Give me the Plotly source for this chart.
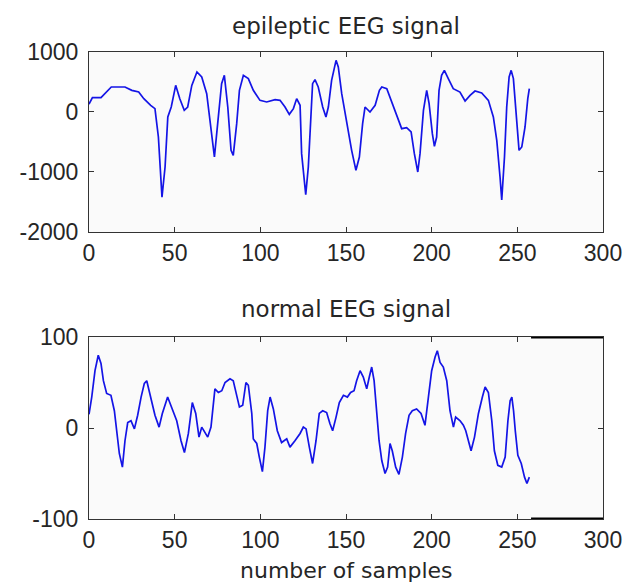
import plotly.graph_objects as go

# ---- data ----
epi_x = [0, 2, 7, 13, 21, 25, 29, 32, 36, 38.5, 40.5, 42.6, 44.4, 46, 48, 50.6, 53, 55.6, 57.6, 60, 63, 65.8,
         68.7, 71.2, 73.2, 75.1, 77.4, 79, 81, 82.9, 84.2, 86.2, 87.8, 90.1, 93, 95.9, 99.8, 103.7, 108.6,
         111.5, 114.4, 116.9, 119.3, 121.2, 123.2, 124.1, 126.5, 128, 129, 130.5, 131.9, 133.8, 136.4,
         138.3, 139.7, 141.6, 144.2, 145.5, 147.5, 150.4, 153.3, 155.8, 157.8, 159.7, 161.1, 164, 167,
         169.5, 170.9, 173.8, 176.7, 179.6, 182.5, 185.4, 188, 189.9, 191.9, 193.2, 195.2, 197.1, 198.5,
         200.4, 201.6, 202.9, 204.3, 205.8, 207.4, 209.7, 212.6, 216.5, 219.5, 222.4, 225.3, 229.2, 233.1,
         236, 238, 239.9, 240.9, 242.5, 243.8, 245.2, 246.4, 247.7, 249.1, 251, 252.6, 254.5, 256.1, 257]
epi_y = [130, 240, 240, 417, 417, 361, 333, 222, 111, 56, -417, -1420, -917, -83, 83, 444, 222, 28, 83, 444, 667, 583,
         306, -306, -750, -194, 472, 611, 83, -639, -722, -194, 361, 611, 556, 361, 194, 167, 206,
         194, 83, -39, 56, 222, 111, -694, -1380, -917, -306, 472, 539, 417, 83,
         -83, 83, 528, 861, 750, 306, -194, -639, -972, -750, -194, 83, 0, 111,
         361, 417, 389, 167, -83, -278, -261, -333, -694, -1000, -694, 28, 361, 139,
         -361, -572, -417, 361, 611, 694, 556, 389, 333, 183, 278, 350, 317, 194,
         -83, -472, -1083, -1467, -750, 83, 583, 694, 556, -28, -639, -583, -250, 222, 389]

nor_x = [0, 1.6, 3.5, 5.4, 7, 8.4, 10.3, 12.8, 14.8, 16.2, 17.7, 19.5, 21, 22.6, 24.5, 26.5, 28.4, 30.4, 32.3,
         33.7, 35.6, 38.5, 40.9, 42.8, 45.9, 48.7, 51.2, 53.7, 55.7, 58, 60.3, 62.3, 64.2, 65.8, 67.7, 69.3,
         71.2, 73.5, 75.5, 77.5, 79.4, 82.3, 84.2, 86.2, 87.8, 89.7, 91.6, 93, 95, 95.9, 97.9, 99.4, 101.2,
         102.7, 104.3, 105.7, 107.6, 109.9, 112.4, 115.4, 117.3, 120.2, 123.2, 125.1, 126.7, 128.6, 130.5,
         132.5, 134.4, 136.4, 138.7, 140.6, 142.2, 144.2, 146.1, 148.5, 150.8, 152.7, 154.7, 156.2, 158.2,
         160.1, 162.1, 163.6, 165, 166.4, 167.9, 169.3, 170.9, 172.8, 174.3, 175.7, 177, 179, 180.9, 182.9,
         184.8, 186.8, 188.7, 191.2, 193.8, 196.1, 198.1, 200, 202, 203.3, 204.9, 206.8, 208.8, 210.7,
         212.7, 214, 216.6, 218.5, 219.9, 221.4, 223, 225, 227.3, 229.6, 231.2, 233.1, 235.1, 236.6, 238.6,
         240.9, 242.9, 244.5, 245.8, 246.8, 247.8, 248.8, 250.3, 252.3, 254.2, 255.6, 257]
nor_y = [15, 34, 63, 80, 71, 52, 38, 36, 19, -6, -28, -43, -14, 6, 8, -1, 14, 34, 49,
         52, 38, 14, 1, 16, 34, 21, 8, -14, -27, -6, 28, 16, -10, 1, -5, -10,
         1, 43, 39, 41, 50, 54, 52, 36, 23, 25, 50, 47, 16, -12, -17, -32, -48,
         -21, 19, 34, 21, -3, -16, -12, -21, -14, -6, 1, -1, -21, -39,
         -14, 16, 19, 17, 5, -3, 12, 28, 36, 34, 39, 41, 52, 63,
         56, 43, 56, 67, 52, 12, -14, -36, -50, -43, -17, -25, -43, -51, -32,
         -6, 14, 19, 21, 16, 3, 34, 63, 78, 85, 72, 67, 52, 19,
         1, 12, 8, 3, -3, -14, -25, -10, 16, 34, 45, 39, 8, -25, -41,
         -43, -32, 8, 30, 34, 19, -3, -30, -39, -54, -61, -54]

x_ticks = [0, 50, 100, 150, 200, 250, 300]
epi_ticks = [-2000, -1000, 0, 1000]
nor_ticks = [-100, 0, 100]

titles = ["epileptic EEG signal", "normal EEG signal"]
xlabel = "number of samples"

TICKFONT = "Liberation Sans, Arial, sans-serif"
TITLEFONT = "DejaVu Sans, sans-serif"
TXT = "#262626"
LINE = "#1414e6"

fig = go.Figure()
fig.add_trace(go.Scatter(x=epi_x, y=epi_y, mode="lines", line=dict(color=LINE, width=1.7),
                         xaxis="x", yaxis="y", showlegend=False, hoverinfo="skip"))
fig.add_trace(go.Scatter(x=nor_x, y=nor_y, mode="lines", line=dict(color=LINE, width=1.7),
                         xaxis="x2", yaxis="y2", showlegend=False, hoverinfo="skip"))

ax_common = dict(showline=True, linecolor="#333333", linewidth=1.2, mirror="ticks",
                 ticks="inside", ticklen=5, tickcolor="#333333", showgrid=False, zeroline=False,
                 automargin=False, tickfont=dict(family=TICKFONT, size=23, color=TXT))

def lab(v):
    return [str(t) for t in v]

# the page body adds an 8px offset, so margins are shifted to keep the reference positions
fig.update_layout(
    width=631, height=585,
    margin=dict(l=81, r=36, t=44, b=74),
    paper_bgcolor="white", plot_bgcolor="#fafafa",
    xaxis=dict(domain=[0, 1], range=[0, 300], tickvals=x_ticks, ticktext=lab(x_ticks), anchor="y", **ax_common),
    yaxis=dict(domain=[0.6146, 1], range=[-2000, 1000], tickvals=epi_ticks, ticktext=lab(epi_ticks),
               anchor="x", ticklabelstandoff=5, **ax_common),
    xaxis2=dict(domain=[0, 1], range=[0, 300], tickvals=x_ticks, ticktext=lab(x_ticks), anchor="y2", **ax_common),
    yaxis2=dict(domain=[0, 0.3897], range=[-100, 100], tickvals=nor_ticks, ticktext=lab(nor_ticks),
                anchor="x2", ticklabelstandoff=5, **ax_common),
)

fig.add_annotation(text=titles[0], xref="paper", yref="paper", x=0.5, y=(519 - 26) / 467, showarrow=False,
                   xanchor="center", yanchor="middle", font=dict(family=TITLEFONT, size=23, color=TXT))
fig.add_annotation(text=titles[1], xref="paper", yref="paper", x=0.5, y=(519 - 309) / 467, showarrow=False,
                   xanchor="center", yanchor="middle", font=dict(family=TITLEFONT, size=23, color=TXT))
fig.add_annotation(text=xlabel, xref="paper", yref="paper", x=0.5, y=(519 - 570) / 467, showarrow=False,
                   xanchor="center", yanchor="middle", font=dict(family=TITLEFONT, size=22, color=TXT))

# thick frame segments visible in the reference at the right of the lower panel
for yv in nor_ticks[::2]:
    fig.add_shape(type="line", xref="x2", yref="y2", x0=258, x1=300, y0=yv, y1=yv,
                  line=dict(color="black", width=3))

fig.write_html("out.html")
